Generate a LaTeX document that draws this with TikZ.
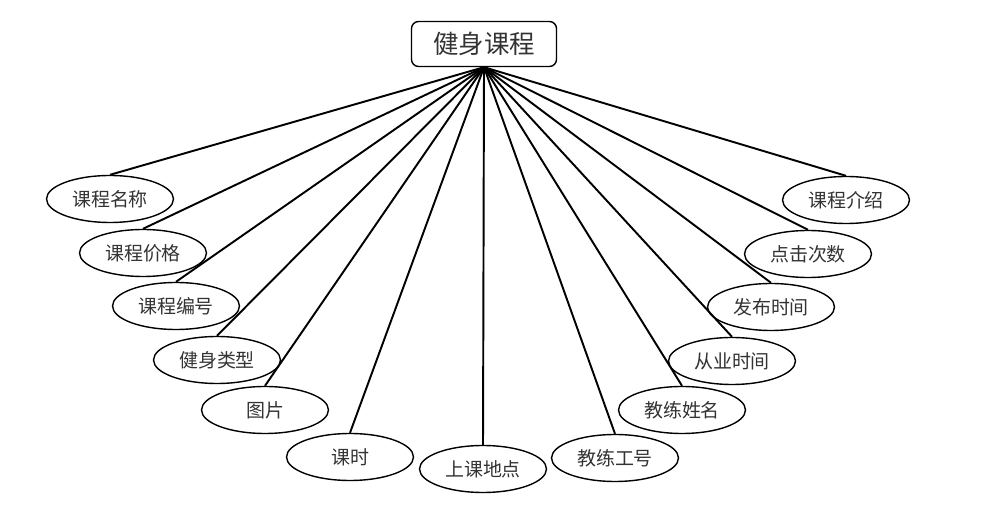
\documentclass[tikz,border=0pt]{standalone}
\usepackage{fontspec}
\setmainfont{Noto Sans CJK SC}
\usepackage{tikz}
\usetikzlibrary{shapes.geometric}

\begin{document}
\begin{tikzpicture}[
  x=0.02cm, y=-0.02cm,
  entity/.style={rectangle, rounded corners=4pt, draw=black, line width=0.8pt, minimum width=2.9cm, minimum height=0.9cm, inner sep=0pt, font=\fontsize{14.5}{16}\selectfont, text=black!80},
  attr/.style={ellipse, draw=black, line width=0.8pt, minimum width=2.54cm, minimum height=0.94cm, inner sep=0pt, font=\fontsize{10.8}{12}\selectfont, text=black!80},
  link/.style={line width=1.1pt}
]
\useasboundingbox (0,0) rectangle (983,519);

\node[entity] (course) at (484,44) {健身课程};

\node[attr] (cname) at (110,199) {课程名称};
\node[attr] (price) at (143,253) {课程价格};
\node[attr] (cid) at (176,306) {课程编号};
\node[attr] (ctype) at (217,360) {健身类型};
\node[attr] (pic) at (265,410) {图片};
\node[attr] (hours) at (350,457) {课时};
\node[attr] (place) at (483,469) {上课地点};
\node[attr] (tid) at (615,458) {教练工号};
\node[attr] (tname) at (682,410) {教练姓名};
\node[attr] (years) at (732,361) {从业时间};
\node[attr] (pubtime) at (771,307) {发布时间};
\node[attr] (clicks) at (808,254) {点击次数};
\node[attr] (intro) at (846,200) {课程介绍};

\foreach \a in {cname,price,cid,ctype,pic,hours,place,tid,tname,years,pubtime,clicks,intro}
  \draw[link] (course.south) -- (\a.north);
\end{tikzpicture}
\end{document}
